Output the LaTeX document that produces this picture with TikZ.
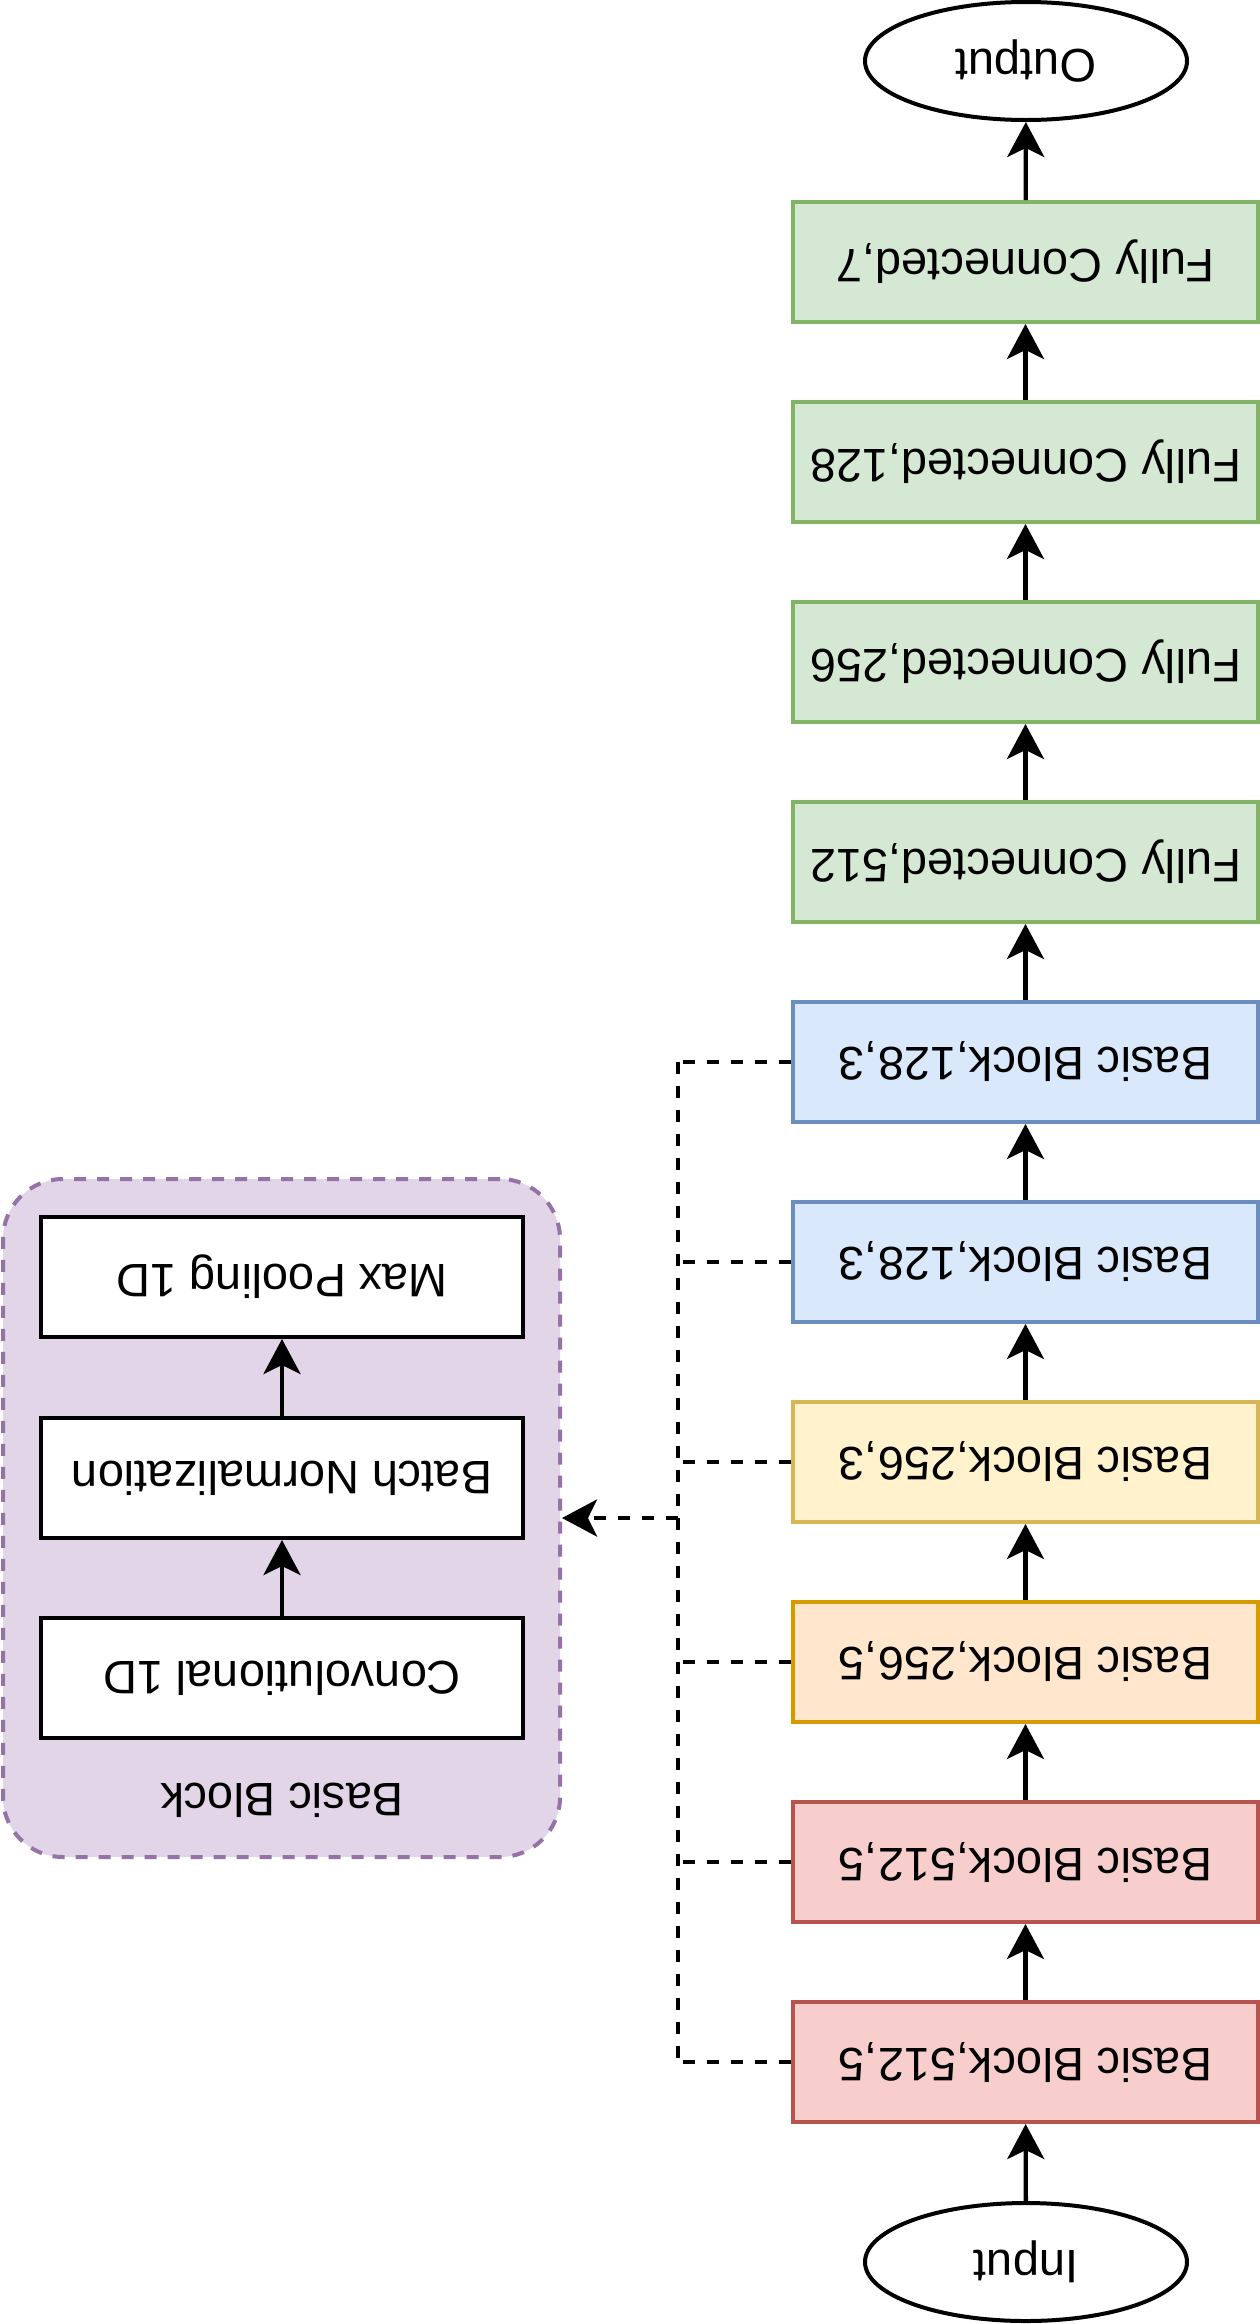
\documentclass[tikz,border=0pt]{standalone}
\usepackage{fontspec}
\setmainfont{Liberation Sans}
\usetikzlibrary{shapes.geometric,arrows.meta}
\definecolor{gfill}{HTML}{D5E8D4}\definecolor{gline}{HTML}{82B366}
\definecolor{bfill}{HTML}{DAE8FC}\definecolor{bline}{HTML}{6C8EBF}
\definecolor{yfill}{HTML}{FFF2CC}\definecolor{yline}{HTML}{D6B656}
\definecolor{ofill}{HTML}{FFE6CC}\definecolor{oline}{HTML}{D79B00}
\definecolor{rfill}{HTML}{F8CECC}\definecolor{rline}{HTML}{B85450}
\definecolor{pfill}{HTML}{E1D5E7}\definecolor{pline}{HTML}{9673A6}
\newcommand{\ud}[1]{\rotatebox{180}{#1}}
\begin{document}
\begin{tikzpicture}[x=1pt,y=-1pt,
  font=\fontsize{47}{56}\selectfont,
  layer/.style={draw, line width=4pt, rectangle, minimum width=465pt, minimum height=120pt, inner sep=0pt},
  inner/.style={draw=black, fill=white, line width=4pt, rectangle, minimum width=482pt, minimum height=120pt, inner sep=0pt},
  term/.style={draw=black, fill=white, line width=4pt, ellipse, minimum width=322pt, minimum height=118pt, inner sep=0pt},
  tip/.style={-{Stealth[length=35pt,width=37pt,inset=9pt]}},
  arr/.style={line width=4.3pt, tip},
  dline/.style={line width=4pt, dash pattern=on 12pt off 12pt},
]
\useasboundingbox (0,0) rectangle (1260,2324);
% right column
\node[term] (out) at (1026,61) {\ud{Output}};
\node[layer, fill=gfill, draw=gline] (fc7) at (1025.5,262) {\ud{Fully Connected,7}};
\node[layer, fill=gfill, draw=gline] (fc128) at (1025.5,462) {\ud{Fully Connected,128}};
\node[layer, fill=gfill, draw=gline] (fc256) at (1025.5,662) {\ud{Fully Connected,256}};
\node[layer, fill=gfill, draw=gline] (fc512) at (1025.5,862) {\ud{Fully Connected,512}};
\node[layer, fill=bfill, draw=bline] (b1) at (1025.5,1062) {\ud{Basic Block,128,3}};
\node[layer, fill=bfill, draw=bline] (b2) at (1025.5,1262) {\ud{Basic Block,128,3}};
\node[layer, fill=yfill, draw=yline] (b3) at (1025.5,1462) {\ud{Basic Block,256,3}};
\node[layer, fill=ofill, draw=oline] (b4) at (1025.5,1662) {\ud{Basic Block,256,5}};
\node[layer, fill=rfill, draw=rline] (b5) at (1025.5,1862) {\ud{Basic Block,512,5}};
\node[layer, fill=rfill, draw=rline] (b6) at (1025.5,2062) {\ud{Basic Block,512,5}};
\node[term] (in) at (1026,2262) {\ud{Input}};
\draw[arr] (in) -- (b6);
\draw[arr] (b6) -- (b5);
\draw[arr] (b5) -- (b4);
\draw[arr] (b4) -- (b3);
\draw[arr] (b3) -- (b2);
\draw[arr] (b2) -- (b1);
\draw[arr] (b1) -- (fc512);
\draw[arr] (fc512) -- (fc256);
\draw[arr] (fc256) -- (fc128);
\draw[arr] (fc128) -- (fc7);
\draw[arr] (fc7) -- (out);
% basic block container
\node[draw=pline, fill=pfill, line width=4pt, dash pattern=on 12pt off 11pt, rounded corners=60pt, minimum width=557pt, minimum height=678pt, inner sep=0pt] (bb) at (281.5,1518) {};
\node (bblabel) at (282,1800) {\ud{Basic Block}};
\node[inner] (mp) at (282,1277) {\ud{Max Pooling 1D}};
\node[inner] (bn) at (282,1478) {\ud{Batch Normalization}};
\node[inner] (cv) at (282,1678) {\ud{Convolutional 1D}};
\draw[arr] (cv) -- (bn);
\draw[arr] (bn) -- (mp);
% dashed links
\coordinate (t1) at (678,1062);
\coordinate (t2) at (678,1262);
\coordinate (t3) at (678,1462);
\coordinate (t4) at (678,1662);
\coordinate (t5) at (678,1862);
\coordinate (t6) at (678,2062);
\coordinate (tm) at (678,1518);
\foreach \i in {1,...,6} \draw[dline] (b\i.west) -- (t\i);
\draw[dline] (t1) -- (t6);
\draw[dline, tip] (tm) -- (bb.east);
\end{tikzpicture}
\end{document}
